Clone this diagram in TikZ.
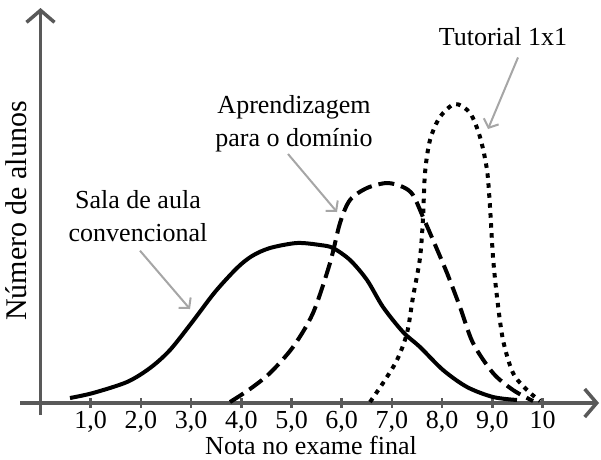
\documentclass[tikz,border=0pt]{standalone}
\usepackage{fontspec}
\setmainfont{Liberation Serif}
\usetikzlibrary{arrows.meta}
\definecolor{axisgray}{HTML}{595959}
\definecolor{notegray}{HTML}{A6A6A6}
\tikzset{
  axis/.style={draw=axisgray, line width=3.5pt},
  curve/.style={line width=4pt, line join=round},
  note/.style={draw=notegray, line width=2pt, -{Straight Barb[length=7pt,width=16pt]}},
  lbl/.style={inner sep=0pt, font=\fontsize{26}{33}\selectfont}
}

\begin{document}
\begin{tikzpicture}[x=1pt,y=-1pt]
      \useasboundingbox (0,0) rectangle (601,459);
      %% Axes
      \coordinate (xl) at (20,403);
      \coordinate (xr) at (599,403);
      \coordinate (yb) at (40.5,415);
      \coordinate (yt) at (40.5,8);
      \draw[axis,-{Straight Barb[length=12pt,width=28pt]}] (xl) -- (xr);
      \draw[axis,-{Straight Barb[length=12pt,width=28pt]}] (yb) -- (yt);
      %% Ticks and their labels
      \foreach \i in {1,...,9} {
        \draw[axis,line width=2.5pt] (40.5+50.2*\i,398) -- (40.5+50.2*\i,408);
        \node[lbl,anchor=base] (t\i) at (40.5+50.2*\i,428) {\i,0};
      }
      \draw[axis,line width=2.5pt] (542.5,398) -- (542.5,408);
      \node[lbl,anchor=base] (t10) at (542.5,428) {10};
      \node[lbl,anchor=base] (nota) at (311,454) {Nota no exame final};
      \node[lbl,rotate=90,anchor=base,font=\fontsize{30}{33}\selectfont] (num) at (26,211) {Número de alunos};
      %% Curves
      \draw[curve] plot[smooth,tension=0.5] coordinates {(70,398) (93,393)
        (127,382) (150,368) (170,350) (193,321) (215,292) (237,268) (252,256)
        (270,248) (297,243) (320,245) (333,248) (350,260) (367,280) (383,307)
        (403,332) (420,347) (443,370) (467,387) (493,397) (517,400)};
      \draw[curve,dash pattern=on 16pt off 7pt] plot[smooth,tension=0.5]
        coordinates {(230,402) (250,389) (270,373) (293,347) (313,313)
        (330,263) (340,223) (350,200) (367,188) (387,183) (403,187) (413,195)
        (423,217) (433,240) (447,273) (460,307) (473,343) (493,373) (513,390)
        (533,401)};
      \draw[curve,dash pattern=on 4.5pt off 5.5pt] plot[smooth,tension=0.5]
        coordinates {(370,402) (383,383) (397,360) (407,333) (413,297)
        (420,258) (423,218) (425,173) (430,140) (440,117) (455,104) (470,113)
        (480,137) (487,170) (490,207) (493,257) (497,297) (503,340) (513,373)
        (527,390) (540,401)};
      %% Labels with their arrows
      \node[lbl,anchor=base] (tut) at (503,45) {Tutorial 1x1};
      \node[lbl,anchor=north,align=center] (apr) at (294,95) {Aprendizagem\\para o domínio};
      \node[lbl,anchor=north,align=center] (sala) at (138,190) {Sala de aula\\convencional};
      \coordinate (tuttip) at (488,129);
      \coordinate (aprtip) at (337,212);
      \coordinate (salatip) at (190,309);
      \draw[note] ([xshift=15pt,yshift=-12pt]tut.south) -- (tuttip);
      \draw[note] ([xshift=-6pt,yshift=-2pt]apr.south) -- (aprtip);
      \draw[note] ([xshift=2pt,yshift=-9pt]sala.south) -- (salatip);
\end{tikzpicture}
\end{document}
